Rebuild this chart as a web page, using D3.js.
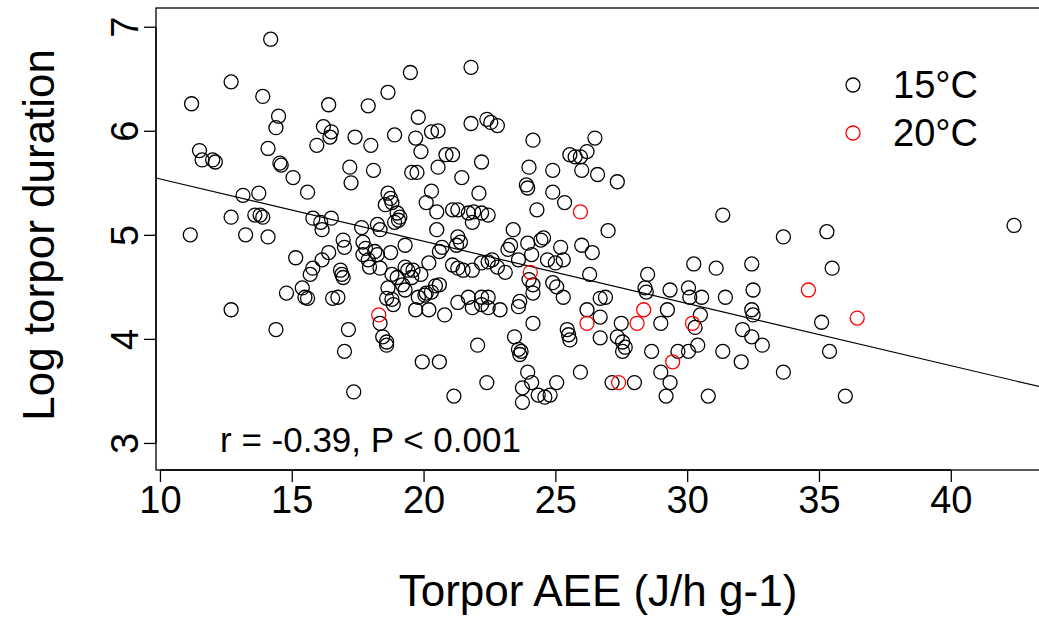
<!DOCTYPE html>
<html><head><meta charset="utf-8">
<script src="https://cdn.jsdelivr.net/npm/d3@7"></script>
<style>body{margin:0;background:#fff;} svg{display:block;} text{font-family:"Liberation Sans",Arial,sans-serif;fill:#000;}</style>
</head><body>
<script>
// Torpor AEE (x) and log torpor duration (y), 15°C group
const aee15 = [14.2,12.7,11.2,13.9,14.5,14.4,16.4,16.2,16.45,16.5,15.95,11.5,11.6,12.0,12.1,14.1,14.55,14.6,
19.5,21.8,18.65,17.9,19.8,21.8,22.4,22.55,22.8,17.4,18.0,18.9,19.7,19.9,20.3,20.55,20.85,21.1,22.2,17.2,18.1,19.55,19.75,20.55,
24.15,26.5,25.55,25.75,25.95,26.2,24.0,24.9,26.0,26.6,
15.05,15.6,13.15,13.75,12.7,13.6,13.8,13.9,15.8,16.1,16.5,16.15,11.15,13.25,14.1,15.15,16.4,16.15,15.8,15.7,14.8,15.4,15.5,15.6,16.55,12.7,14.4,
17.25,21.45,22.1,20.3,18.65,18.75,18.55,18.8,19.0,19.1,19.05,18.9,20.1,20.5,21.1,21.3,21.7,21.9,22.2,22.45,21.85,20.5,17.65,18.25,18.35,19.3,21.3,21.4,21.25,16.95,17.0,
17.7,17.8,17.7,18.15,18.25,18.75,20.7,20.6,17.9,17.95,18.35,16.85,16.9,16.95,19.3,19.4,19.6,20.2,21.1,21.3,21.5,21.85,22.2,22.45,22.6,18.8,19.0,19.55,19.9,
18.65,19.2,19.3,20.45,20.6,20.3,20.1,16.75,18.6,18.8,19.8,20.05,21.7,22.2,22.45,
27.35,23.9,23.95,24.9,25.35,24.3,27.0,23.4,26.0,26.4,23.3,23.2,23.95,24.45,24.55,25.2,25.3,22.8,23.1,23.6,24.1,24.7,25.0,24.0,24.15,24.9,25.05,24.15,26.3,28.5,28.4,28.45,23.65,25.3,26.7,26.9,
31.35,33.65,30.25,31.1,32.45,29.35,30.05,30.1,30.55,31.45,32.5,
18.85,18.35,18.45,18.6,18.6,19.7,20.2,20.8,21.3,21.85,22.2,22.45,17.15,17.0,19.95,20.6,22.05,17.35,21.15,22.4,
22.9,23.6,24.15,23.45,23.6,23.7,23.65,25.45,25.5,25.55,26.2,26.7,26.7,27.5,27.35,27.55,27.65,27.55,28.65,25.95,23.95,24.1,23.75,25.05,23.75,24.35,24.6,24.8,27.15,28.0,
29.25,29.0,30.5,30.3,32.45,32.5,32.1,32.45,32.85,30.4,30.05,29.65,31.35,32.05,33.65,29.0,29.35,29.2,30.8,
35.3,35.5,35.1,35.4,36.0,42.4];
const dur15 = [6.88,6.47,6.26,6.33,6.14,6.03,6.25,6.04,5.94,5.99,5.86,5.81,5.72,5.72,5.70,5.83,5.69,5.67,
6.56,6.61,6.37,6.24,6.13,6.07,6.11,6.08,6.05,5.94,5.86,5.96,5.93,5.80,5.99,6.0,5.77,5.77,5.70,5.65,5.62,5.60,5.60,5.65,
5.91,5.93,5.77,5.75,5.75,5.80,5.65,5.62,5.62,5.58,
5.55,5.41,5.38,5.40,5.17,5.19,5.19,5.17,5.16,5.12,5.16,5.05,5.0,5.0,4.98,4.78,4.83,4.76,4.68,4.62,4.44,4.49,4.40,4.39,4.39,4.28,4.09,
5.5,5.55,5.40,5.42,5.40,5.35,5.29,5.31,5.21,5.17,5.14,5.12,5.31,5.22,5.24,5.24,5.21,5.22,5.21,5.19,5.12,5.05,5.07,5.10,5.05,4.9,4.98,4.93,4.9,4.95,4.88,
4.93,4.87,4.81,4.84,4.81,4.83,4.88,4.84,4.76,4.69,4.68,4.66,4.62,4.59,4.69,4.66,4.66,4.73,4.71,4.68,4.66,4.66,4.73,4.74,4.76,4.62,4.59,4.59,4.62,
4.49,4.52,4.47,4.51,4.52,4.45,4.44,4.40,4.39,4.38,4.40,4.42,4.40,4.40,4.40,
5.51,5.48,5.45,5.41,5.31,5.24,5.04,5.05,4.9,4.83,4.9,4.86,4.92,4.95,4.97,4.88,4.76,4.69,4.64,4.76,4.81,4.76,4.73,4.57,4.52,4.54,4.50,4.44,4.62,4.62,4.49,4.45,4.36,4.40,4.39,4.40,
5.19,4.98,4.72,4.68,4.72,4.47,4.49,4.40,4.40,4.40,4.47,
4.33,4.15,4.02,3.97,3.94,4.28,4.28,4.23,4.35,4.30,4.33,4.30,4.09,3.88,3.78,3.78,3.94,3.49,3.45,3.58,
4.28,4.31,4.15,4.02,3.9,3.88,3.85,4.09,4.04,3.99,4.28,4.21,4.01,4.15,4.02,3.97,3.92,3.88,3.88,3.68,3.68,3.58,3.53,3.58,3.39,3.46,3.44,3.46,3.58,3.58,
4.28,4.15,4.23,4.11,4.28,4.23,4.09,4.02,3.94,3.94,3.88,3.88,3.88,3.78,3.68,3.68,3.58,3.45,3.45,
5.03,4.68,4.16,3.88,3.45,5.09];
// 20°C group
const aee20 = [25.95,24.05,18.3,26.2,28.1,28.35,30.2,29.45,27.4,34.6,36.45];
const dur20 = [5.22,4.64,4.23,4.15,4.15,4.28,4.15,3.78,3.58,4.47,4.20];
// regression fit
const fitIntercept = 6.135, fitSlope = -0.0598;
const xTicks = [10,15,20,25,30,35,40];
const yTicks = [3,4,5,6,7];
const legendLabels = ["15°C","20°C"];
const legendColors = ["#000000","#ff0000"];
const xLabel = "Torpor AEE (J/h g-1)";
const yLabel = "Log torpor duration";
const statText = "r = -0.39, P < 0.001";

const W = 1039, H = 621;
const svg = d3.select("body").append("svg").attr("width", W).attr("height", H);
const xDom = [9.85, 43.65], yDom = [2.74, 7.18];
const x = d3.scaleLinear().domain(xDom).range([156, 1047]);
const y = d3.scaleLinear().domain(yDom).range([470, 8]);
const FS = 38, FSL = 44;

// box
svg.append("rect").attr("x", x(xDom[0])).attr("y", y(yDom[1]))
  .attr("width", x(xDom[1]) - x(xDom[0])).attr("height", y(yDom[0]) - y(yDom[1]))
  .attr("fill", "none").attr("stroke", "#000").attr("stroke-width", 1.3);

// axes
const xAxis = d3.axisBottom(x).tickValues(xTicks).tickSize(12).tickPadding(4).tickFormat(d3.format("d"));
const gx = svg.append("g").attr("transform", `translate(0,${y(yDom[0])})`).call(xAxis);
gx.select(".domain").attr("d", `M${x(10)},0H${x(40)}`).attr("stroke-width", 1.3);
gx.selectAll(".tick line").attr("stroke-width", 1.3);
gx.selectAll("text").attr("font-size", FS).attr("font-family", '"Liberation Sans",Arial,sans-serif').attr("dy", "0.71em");

const yAxis = d3.axisLeft(y).tickValues(yTicks).tickSize(12).tickFormat(d3.format("d"));
const gy = svg.append("g").attr("transform", `translate(${x(xDom[0])},0)`).call(yAxis);
gy.select(".domain").attr("d", `M0,${y(3)}V${y(7)}`).attr("stroke-width", 1.3);
gy.selectAll(".tick line").attr("stroke-width", 1.3);
gy.selectAll("text").attr("font-size", FS).attr("font-family", '"Liberation Sans",Arial,sans-serif')
  .attr("x", null).attr("dy", null).attr("text-anchor", "middle")
  .attr("transform", "translate(-18,0) rotate(-90)");

// axis titles
svg.append("text").attr("x", 598).attr("y", 606).attr("text-anchor", "middle")
  .attr("font-size", FSL).text(xLabel);
svg.append("text").attr("transform", `translate(54,${(y(3)+y(7))/2}) rotate(-90)`).attr("text-anchor", "middle")
  .attr("font-size", FSL).text(yLabel);

// regression line
svg.append("line").attr("x1", x(xDom[0])).attr("x2", x(xDom[1]))
  .attr("y1", y(fitIntercept + fitSlope * xDom[0])).attr("y2", y(fitIntercept + fitSlope * xDom[1]))
  .attr("stroke", "#000").attr("stroke-width", 1.2);

// points
const pts15 = aee15.map((v, i) => [v, dur15[i]]);
const pts20 = aee20.map((v, i) => [v, dur20[i]]);
svg.append("g").selectAll("circle").data(pts15).join("circle")
  .attr("cx", d => x(d[0])).attr("cy", d => y(d[1])).attr("r", 7)
  .attr("fill", "none").attr("stroke", legendColors[0]).attr("stroke-width", 1.3);
svg.append("g").selectAll("circle").data(pts20).join("circle")
  .attr("cx", d => x(d[0])).attr("cy", d => y(d[1])).attr("r", 7)
  .attr("fill", "none").attr("stroke", legendColors[1]).attr("stroke-width", 1.3);

// legend
const lg = svg.append("g");
legendLabels.forEach((lab, i) => {
  lg.append("circle").attr("cx", 853).attr("cy", 85 + i * 48).attr("r", 7)
    .attr("fill", "none").attr("stroke", legendColors[i]).attr("stroke-width", 1.3);
  lg.append("text").attr("x", 893).attr("y", 85 + i * 48 + 13).attr("font-size", FS).text(lab);
});

// stat text
svg.append("text").attr("x", 220).attr("y", 452).attr("font-size", 35).text(statText);
</script>
</body></html>
